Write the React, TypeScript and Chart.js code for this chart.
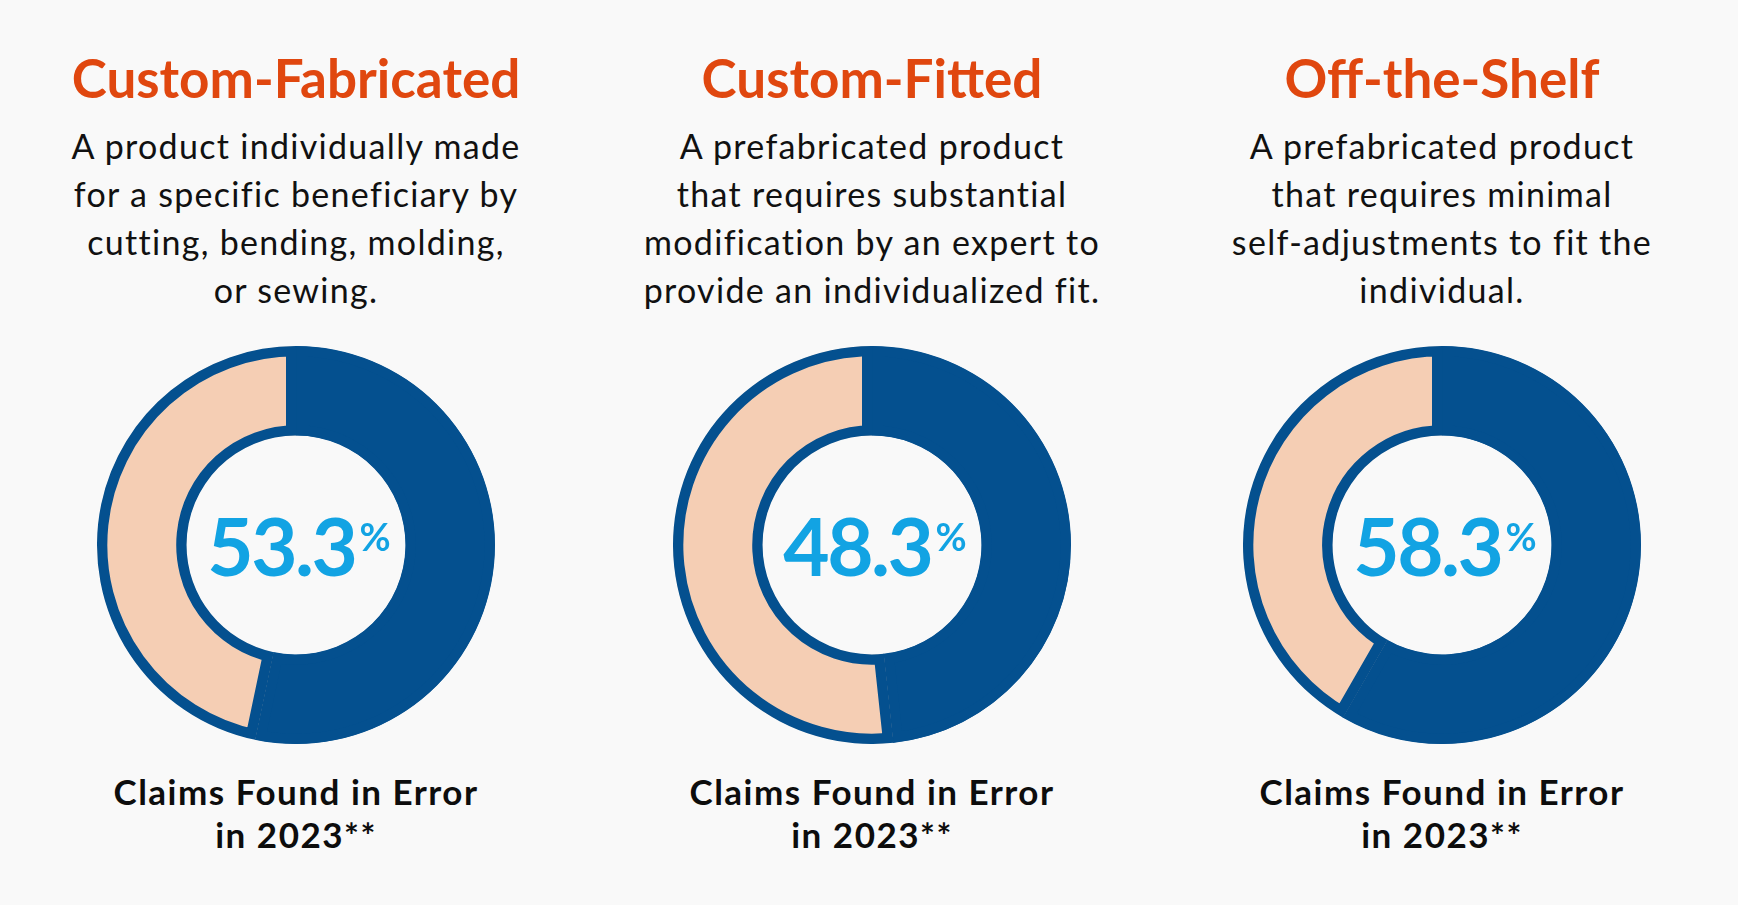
import React, { useEffect, useRef } from "react";
import { Chart, registerables } from "chart.js";

Chart.register(...registerables);

// ---- data ----
const categories = ["Custom-Fabricated", "Custom-Fitted", "Off-the-Shelf"];
const descriptions: string[][] = [
  ["A product individually made", "for a specific beneficiary by", "cutting, bending, molding,", "or sewing."],
  ["A prefabricated product", "that requires substantial", "modification by an expert to", "provide an individualized fit."],
  ["A prefabricated product", "that requires minimal", "self-adjustments to fit the", "individual."],
];
const errorRates = [53.3, 48.3, 58.3];
const footerLines = ["Claims Found in Error", "in 2023**"];

// ---- styles ----
const BLUE = "#04508F";
const PINK = "#F5CEB4";
const ORANGE = "#E0470F";
const CYAN = "#12A3E3";
const BG = "#F9F9F9";
const FONT = "Lato, 'Open Sans', sans-serif";

const COL_X = [296, 872, 1442];
const DONUT_CY = 545;
const CANVAS = 398;

function Donut({ value, cx }: { value: number; cx: number }) {
  const ref = useRef<HTMLCanvasElement | null>(null);
  useEffect(() => {
    if (!ref.current) return;
    const chart = new Chart(ref.current, {
      type: "doughnut",
      data: {
        labels: ["Claims found in error", "Other"],
        datasets: [
          {
            data: [value, +(100 - value).toFixed(1)],
            backgroundColor: [BLUE, PINK],
            borderColor: [BLUE, BLUE],
            borderWidth: [10, 10],
            borderAlign: "inner",
            hoverOffset: 0,
          } as any,
        ],
      },
      options: {
        responsive: false,
        maintainAspectRatio: false,
        animation: false,
        cutout: "55%",
        layout: { padding: 0 },
        plugins: { legend: { display: false }, tooltip: { enabled: false } },
        events: [],
      },
    });
    return () => chart.destroy();
  }, [value]);
  return (
    <canvas
      ref={ref}
      width={CANVAS}
      height={CANVAS}
      style={{ position: "absolute", left: cx - CANVAS / 2, top: DONUT_CY - CANVAS / 2, width: CANVAS, height: CANVAS }}
    />
  );
}

export default function App() {
  return (
    <div style={{ position: "fixed", left: 0, top: 0, width: 1738, height: 905, background: BG, overflow: "hidden", fontFamily: FONT }}>
      {categories.map((cat, i) => {
        const cx = COL_X[i];
        return (
          <React.Fragment key={cat}>
            <div
              style={{
                position: "absolute", left: cx - 300, width: 600, top: 48, textAlign: "center",
                fontSize: 53, lineHeight: "60px", fontWeight: 700, color: ORANGE, letterSpacing: 0,
              }}
            >
              {cat}
            </div>
            <div
              style={{
                position: "absolute", left: cx - 320, width: 640, top: 122, textAlign: "center",
                fontSize: 34, lineHeight: "48px", fontWeight: 400, color: "#111111", letterSpacing: 1.3,
              }}
            >
              {descriptions[i].map((l, k) => (
                <div key={k}>{l}</div>
              ))}
            </div>
            <Donut value={errorRates[i]} cx={cx} />
            <div
              style={{
                position: "absolute", left: cx - 107, width: 220, top: DONUT_CY - 50, height: 100,
                display: "flex", alignItems: "center", justifyContent: "center",
                color: CYAN, fontWeight: 700, whiteSpace: "nowrap",
              }}
            >
              <span style={{ fontSize: 80, letterSpacing: -2.5, lineHeight: "100px" }}>{errorRates[i].toFixed(1)}</span>
              <span style={{ fontSize: 38, alignSelf: "flex-start", marginTop: 18, marginLeft: 4 }}>%</span>
            </div>
            <div
              style={{
                position: "absolute", left: cx - 300, width: 600, top: 770, textAlign: "center",
                fontSize: 35, lineHeight: "43px", fontWeight: 700, color: "#0d0d0d", letterSpacing: 1.5,
              }}
            >
              {footerLines.map((l, k) => (
                <div key={k}>{l}</div>
              ))}
            </div>
          </React.Fragment>
        );
      })}
    </div>
  );
}
